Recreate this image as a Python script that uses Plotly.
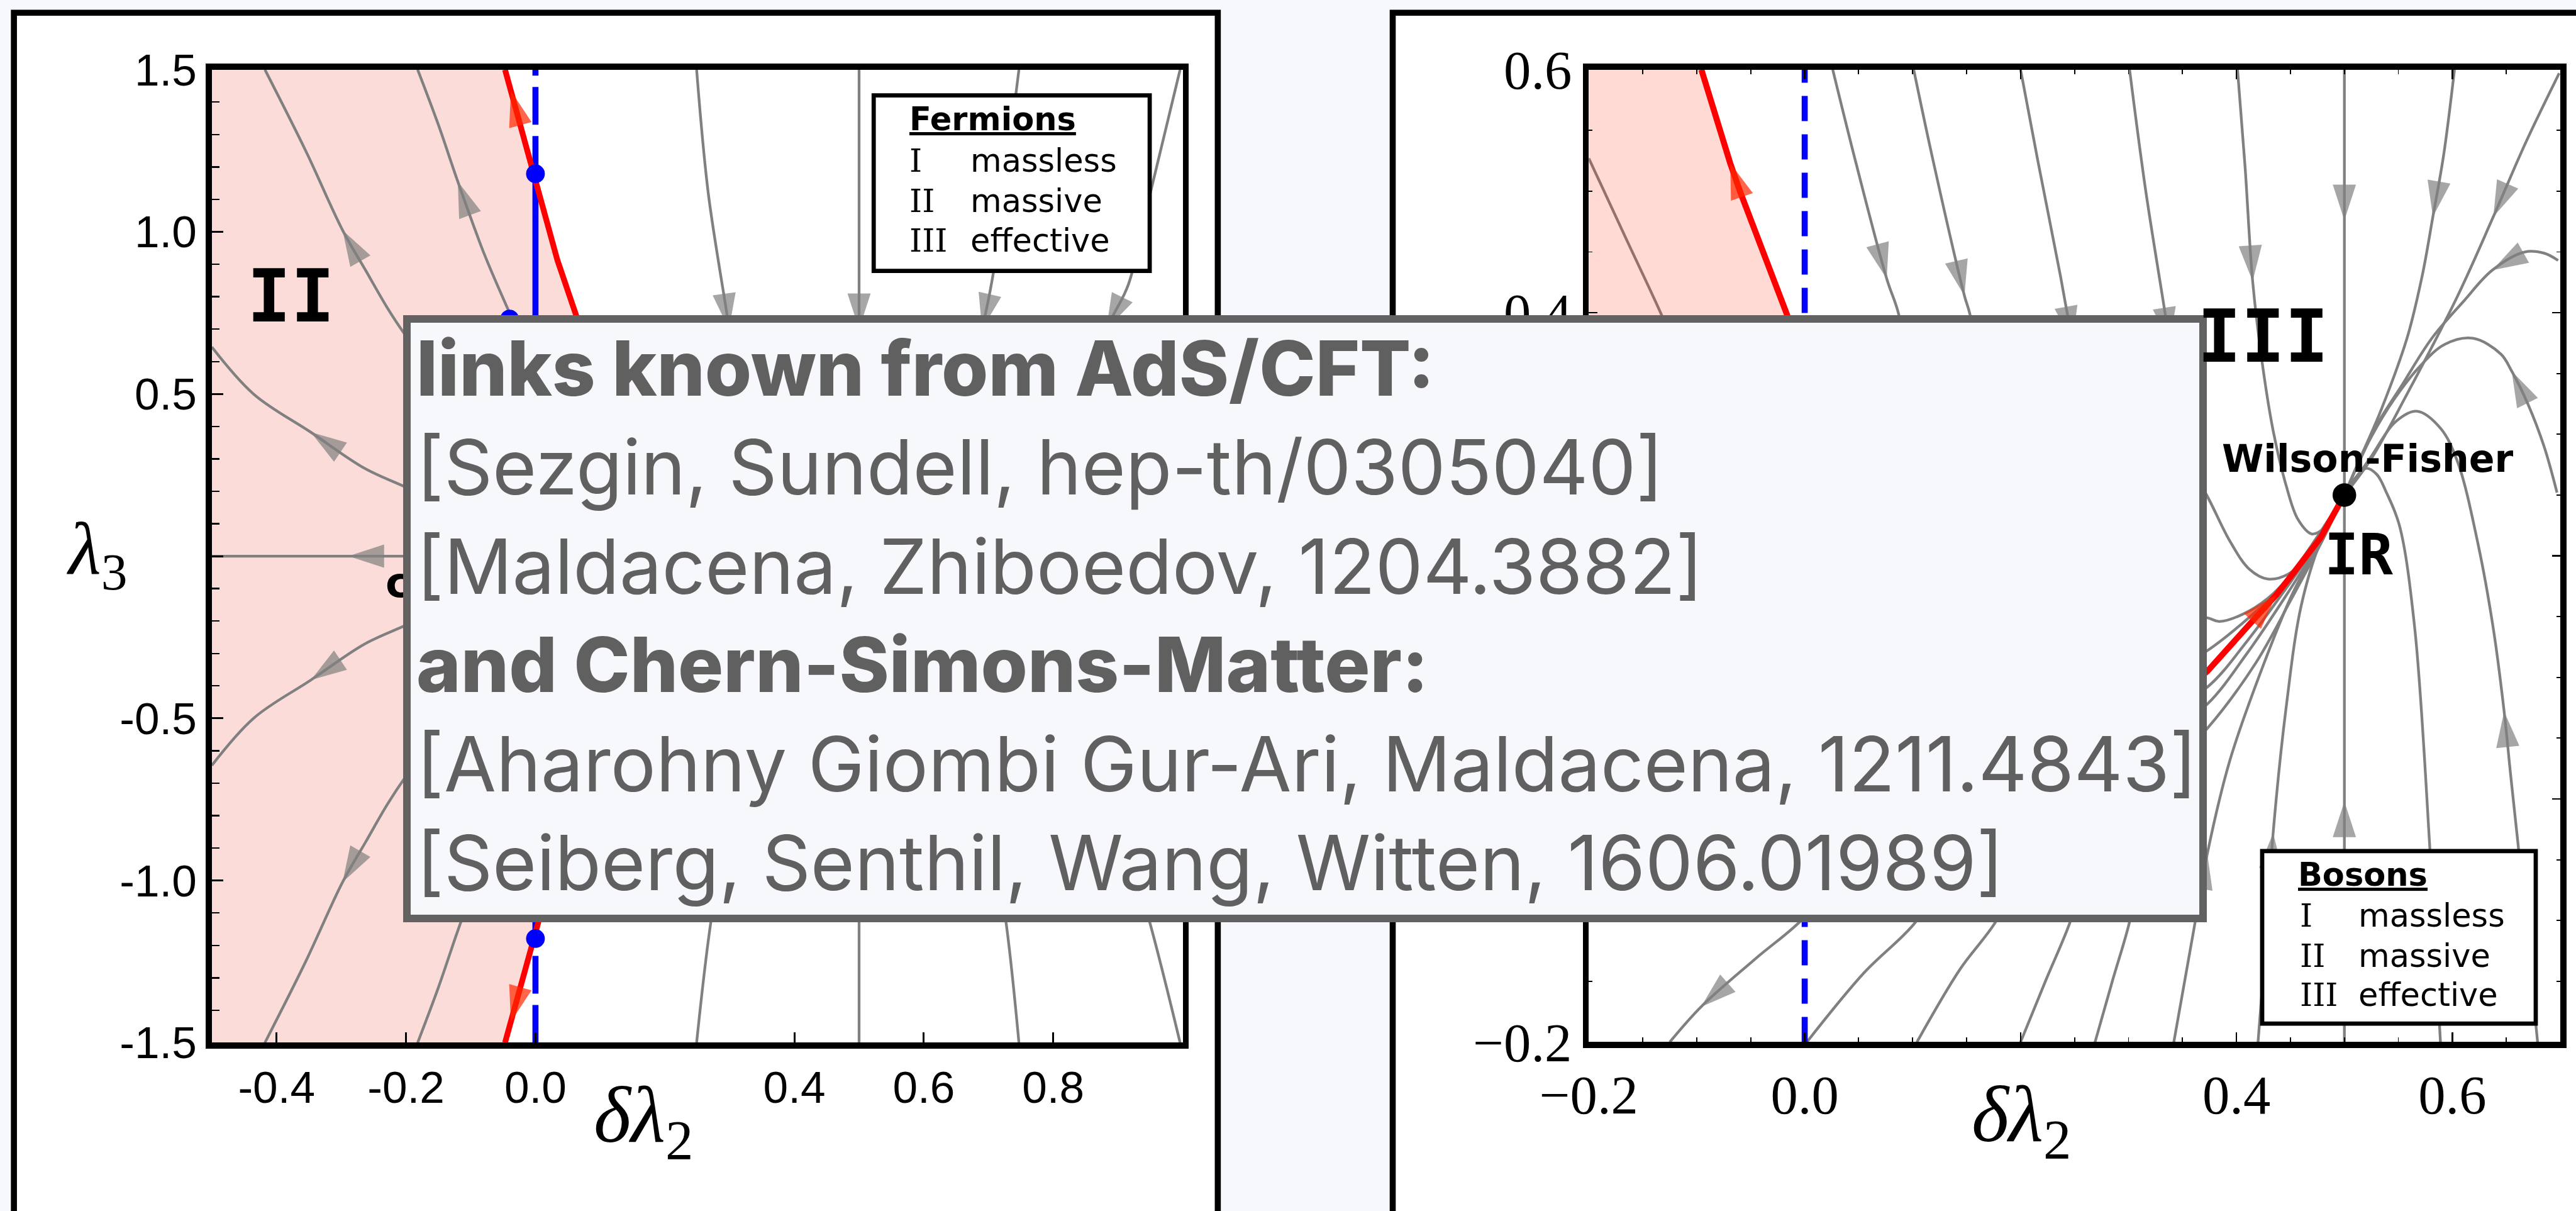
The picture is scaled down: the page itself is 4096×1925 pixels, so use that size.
import plotly.graph_objects as go

# ---------------------------------------------------------------------------
# Canvas: reference layout is 4256 x 2000, drawn at 0.962 scale
# ---------------------------------------------------------------------------
FIG_W, FIG_H = 4096, 1925
REF_W, REF_H = 4256.0, 2000.0
K = FIG_W / REF_W


def sz(v):
    """reference pixels -> figure pixels"""
    return v * K


def pxx(xf):
    return xf / REF_W


def pxy(yf):
    return 1.0 - yf / REF_H


BG = "#f7f8fc"
GRAY = "#808080"
RED = "#ff0000"
RED_HEAD = "#ff2600"
BLUE = "#0000ff"

# ---------------------------------------------------------------------------
# Fermions (left panel): x = delta lambda_2, y = lambda_3
# ---------------------------------------------------------------------------
fer_xticks = [-0.4, -0.2, 0.0, 0.4, 0.6, 0.8]
fer_xlabels = ["-0.4", "-0.2", "0.0", "0.4", "0.6", "0.8"]
fer_yticks = [-1.5, -1.0, -0.5, 0.0, 0.5, 1.0, 1.5]
fer_ylabels = ["-1.5", "-1.0", "-0.5", "", "0.5", "1.0", "1.5"]

# streamlines, points listed along the direction of the flow
fer_flow_a = [(-0.17, 0.60), (-0.204, 0.69), (-0.229, 0.766), (-0.262, 0.88),
              (-0.298, 1.005), (-0.355, 1.25), (-0.418, 1.5)]
fer_flow_b = [(-0.02, 0.66), (-0.040, 0.75), (-0.079, 0.931), (-0.120, 1.155),
              (-0.150, 1.33), (-0.182, 1.5)]
fer_flow_c = [(-0.13, 0.15), (-0.204, 0.216), (-0.265, 0.272), (-0.347, 0.382),
              (-0.435, 0.499), (-0.5, 0.645)]
fer_flow_d = [(-0.10, 0.0), (-0.20, 0.0), (-0.289, 0.0), (-0.5, 0.0)]
fer_flow_e = [(-0.13, -0.15), (-0.204, -0.216), (-0.265, -0.272), (-0.347, -0.382),
              (-0.435, -0.499), (-0.5, -0.645)]
fer_flow_f = [(-0.17, -0.60), (-0.204, -0.69), (-0.229, -0.766), (-0.262, -0.88),
              (-0.298, -1.005), (-0.355, -1.25), (-0.418, -1.5)]
fer_flow_g = [(-0.02, -0.66), (-0.040, -0.75), (-0.079, -0.931), (-0.120, -1.155),
              (-0.150, -1.33), (-0.182, -1.5)]
fer_flow_h = [(0.249, 1.5), (0.267, 1.119), (0.296, 0.744), (0.299, 0.70), (0.31, 0.55)]
fer_flow_i = [(0.5, 1.5), (0.5, 0.8), (0.5, 0.70), (0.5, 0.5)]
fer_flow_j = [(0.747, 1.5), (0.725, 1.15), (0.708, 0.88), (0.695, 0.744),
              (0.690, 0.70), (0.675, 0.55)]
fer_flow_k = [(0.996, 1.5), (0.952, 1.136), (0.916, 0.837), (0.893, 0.744),
              (0.882, 0.70), (0.86, 0.6)]
fer_flow_l = [(0.249, -1.5), (0.271, -1.128), (0.30, -0.8)]
fer_flow_m = [(0.5, -1.5), (0.5, -0.8)]
fer_flow_n = [(0.747, -1.5), (0.727, -1.128), (0.70, -0.8)]
fer_flow_o = [(0.996, -1.5), (0.949, -1.128), (0.90, -0.8)]

fer_flows = [fer_flow_a, fer_flow_b, fer_flow_c, fer_flow_d, fer_flow_e, fer_flow_f,
             fer_flow_g, fer_flow_h, fer_flow_i, fer_flow_j, fer_flow_k, fer_flow_l,
             fer_flow_m, fer_flow_n, fer_flow_o]

# arrowheads: (streamline, tip index, index of the point just before it)
fer_arrows = [(fer_flow_a, 4, 3), (fer_flow_b, 3, 2), (fer_flow_c, 3, 2),
              (fer_flow_d, 2, 1), (fer_flow_e, 3, 2), (fer_flow_f, 4, 3),
              (fer_flow_h, 3, 2), (fer_flow_i, 2, 1), (fer_flow_j, 4, 3),
              (fer_flow_k, 4, 3)]

# separatrix (red) and the massless line (blue)
fer_red = [(-0.047, 1.5), (-0.038, 1.435), (-0.0025, 1.179), (0.034, 0.912),
           (0.063, 0.742), (0.11, 0.40), (0.13, 0.0), (0.11, -0.40), (0.063, -0.742),
           (0.034, -0.912), (-0.0025, -1.179), (-0.038, -1.435), (-0.047, -1.5)]
fer_red_arrows = [(fer_red, 1, 2), (fer_red, 11, 10)]
fer_blue_solid = [(0.0, -1.179), (0.0, 1.179)]
fer_blue_dash_top = [(0.0, 1.179), (0.0, 1.5)]
fer_blue_dash_bottom = [(0.0, -1.5), (0.0, -1.179)]
fer_blue_dots = [(0.0, 1.179), (0.0, -1.179), (-0.04, 0.731)]

# ---------------------------------------------------------------------------
# Bosons (right panel)
# ---------------------------------------------------------------------------
bos_xticks = [-0.2, 0.0, 0.2, 0.4, 0.6]
bos_xlabels = ["\u22120.2", "0.0", "", "0.4", "0.6"]
bos_yticks = [-0.2, 0.0, 0.2, 0.4, 0.6]
bos_ylabels = ["\u22120.2", "0.0", "0.2", "0.4", "0.6"]

wilson_fisher = (0.5, 0.25)

bos_flow_1 = [(0.026, 0.6), (0.047, 0.525), (0.076, 0.428), (0.087, 0.399), (0.10, 0.33)]
bos_flow_2 = [(0.101, 0.6), (0.119, 0.525), (0.148, 0.414), (0.153, 0.399), (0.165, 0.33)]
bos_flow_3 = [(0.200, 0.6), (0.216, 0.525), (0.237, 0.43), (0.248, 0.376), (0.26, 0.32)]
bos_flow_4 = [(0.301, 0.6), (0.316, 0.5), (0.334, 0.399), (0.338, 0.375), (0.345, 0.33)]
bos_flow_5 = [(0.401, 0.6), (0.408, 0.52), (0.415, 0.426), (0.424, 0.358), (0.434, 0.303),
              (0.446, 0.258), (0.457, 0.230), (0.470, 0.218), (0.483, 0.224),
              (0.492, 0.236), (0.5, 0.25)]
bos_flow_6 = [(0.5, 0.6), (0.5, 0.55), (0.5, 0.476), (0.5, 0.25)]
bos_flow_7 = [(0.5, -0.2), (0.5, -0.08), (0.5, -0.002), (0.5, 0.25)]
bos_flow_8 = [(0.602, 0.6), (0.592, 0.53), (0.582, 0.479), (0.572, 0.430), (0.558, 0.379),
              (0.534, 0.320), (0.518, 0.287), (0.5, 0.25)]
bos_flow_9 = [(0.699, 0.597), (0.668, 0.54), (0.638, 0.479), (0.605, 0.414), (0.558, 0.333),
              (0.525, 0.280), (0.5, 0.25)]
bos_flow_10 = [(0.698, 0.443), (0.685, 0.449), (0.667, 0.450), (0.637, 0.435),
               (0.610, 0.409), (0.581, 0.379), (0.553, 0.340), (0.527, 0.303), (0.5, 0.25)]
bos_flow_11 = [(0.697, 0.252), (0.685, 0.290), (0.670, 0.325), (0.655, 0.352),
               (0.645, 0.366), (0.619, 0.379), (0.593, 0.374), (0.570, 0.356),
               (0.547, 0.330), (0.525, 0.298), (0.511, 0.272), (0.5, 0.25)]
bos_flow_12 = [(0.679, -0.2), (0.670, -0.12), (0.661, -0.038), (0.654, 0.02),
               (0.648, 0.072), (0.638, 0.14), (0.624, 0.209), (0.605, 0.277),
               (0.589, 0.305), (0.567, 0.319), (0.547, 0.310), (0.525, 0.282), (0.5, 0.25)]
bos_flow_13 = [(0.589, -0.2), (0.584, -0.12), (0.579, -0.038), (0.565, 0.142),
               (0.551, 0.225), (0.539, 0.252), (0.530, 0.267), (0.520, 0.272),
               (0.510, 0.264), (0.5, 0.25)]
bos_flow_14 = [(0.34, 0.30), (0.373, 0.249), (0.394, 0.212), (0.412, 0.189), (0.429, 0.181),
               (0.448, 0.185), (0.464, 0.198), (0.480, 0.220), (0.5, 0.25)]
bos_flow_15 = [(0.33, 0.15), (0.373, 0.149), (0.384, 0.146), (0.406, 0.152), (0.429, 0.165),
               (0.448, 0.182), (0.469, 0.208), (0.5, 0.25)]
bos_flow_16 = [(0.33, 0.10), (0.373, 0.122), (0.41, 0.148), (0.45, 0.182), (0.478, 0.215),
               (0.5, 0.25)]
bos_flow_17 = [(0.33, 0.07), (0.373, 0.092), (0.41, 0.13), (0.445, 0.172), (0.476, 0.212),
               (0.5, 0.25)]
bos_flow_18 = [(0.33, 0.05), (0.373, 0.078), (0.41, 0.12), (0.445, 0.166), (0.476, 0.210),
               (0.5, 0.25)]
bos_flow_19 = [(0.33, 0.02), (0.373, 0.058), (0.418, 0.112), (0.45, 0.163), (0.477, 0.208),
               (0.5, 0.25)]
bos_flow_20 = [(0.342, -0.2), (0.357, -0.125), (0.365, -0.085), (0.373, -0.045),
               (0.394, 0.032), (0.424, 0.108), (0.452, 0.169), (0.478, 0.212), (0.5, 0.25)]
bos_flow_21 = [(0.420, -0.2), (0.427, -0.12), (0.430, -0.08), (0.434, -0.028),
               (0.446, 0.075), (0.460, 0.159), (0.478, 0.212), (0.5, 0.25)]
bos_flow_22 = [(0.03, -0.06), (0.0, -0.097), (-0.045, -0.131), (-0.096, -0.171),
               (-0.125, -0.2)]
bos_flow_23 = [(0.002, -0.2), (0.055, -0.143), (0.103, -0.101), (0.13, -0.06)]
bos_flow_24 = [(0.104, -0.2), (0.144, -0.140), (0.177, -0.101), (0.20, -0.06)]
bos_flow_25 = [(0.200, -0.2), (0.223, -0.15), (0.246, -0.101), (0.26, -0.06)]
bos_flow_26 = [(0.269, -0.2), (0.285, -0.15), (0.301, -0.101), (0.31, -0.06)]
bos_flow_27 = [(-0.2, 0.527), (-0.165, 0.46), (-0.133, 0.399), (-0.11, 0.35)]

bos_flows = [bos_flow_1, bos_flow_2, bos_flow_3, bos_flow_4, bos_flow_5, bos_flow_6,
             bos_flow_7, bos_flow_8, bos_flow_9, bos_flow_10, bos_flow_11, bos_flow_12,
             bos_flow_13, bos_flow_14, bos_flow_15, bos_flow_16, bos_flow_17,
             bos_flow_18, bos_flow_19, bos_flow_20, bos_flow_21, bos_flow_22,
             bos_flow_23, bos_flow_24, bos_flow_25, bos_flow_26, bos_flow_27]

bos_arrows = [(bos_flow_1, 2, 1), (bos_flow_2, 2, 1), (bos_flow_3, 3, 2),
              (bos_flow_4, 3, 2), (bos_flow_5, 2, 1), (bos_flow_6, 2, 1),
              (bos_flow_7, 2, 1), (bos_flow_8, 2, 1), (bos_flow_9, 2, 1),
              (bos_flow_10, 3, 2), (bos_flow_11, 3, 2), (bos_flow_12, 4, 3),
              (bos_flow_20, 3, 2), (bos_flow_21, 3, 2), (bos_flow_22, 3, 2)]

bos_red_upper = [(0.02, 0.30), (-0.0166, 0.399), (-0.060, 0.500), (-0.069, 0.523),
                 (-0.0957, 0.6)]
bos_red_wf = [(0.30, 0.05), (0.373, 0.105), (0.4175, 0.149), (0.437, 0.168),
              (0.452, 0.185), (0.478, 0.215), (0.5, 0.25)]
bos_red_arrows = [(bos_red_upper, 3, 2), (bos_red_wf, 3, 2)]
bos_shade = [(-0.2, 0.6), (-0.0957, 0.6), (-0.060, 0.500), (-0.0166, 0.399),
             (0.02, 0.30), (-0.2, 0.30)]
bos_blue_dash = [(0.0, -0.2), (0.0, 0.6)]

# ---------------------------------------------------------------------------
fig = go.Figure()


def xs(pts):
    return [p[0] for p in pts]


def ys(pts):
    return [p[1] for p in pts]


def add_line(pts, ax, color, width, shape="spline", dash=None):
    fig.add_trace(go.Scatter(
        x=xs(pts), y=ys(pts), mode="lines", xaxis=ax[0], yaxis=ax[1],
        line=dict(color=color, width=width, shape=shape, dash=dash),
        hoverinfo="skip", showlegend=False))


def add_arrows(specs, ax, color, size):
    ax_x, ax_y, sizes = [], [], []
    for pts, tip, prev in specs:
        ax_x += [pts[prev][0], pts[tip][0]]
        ax_y += [pts[prev][1], pts[tip][1]]
        sizes += [0, size]
    fig.add_trace(go.Scatter(
        x=ax_x, y=ax_y, mode="markers", xaxis=ax[0], yaxis=ax[1],
        marker=dict(symbol="arrow", angleref="previous", size=sizes, color=color,
                    line=dict(width=0)),
        hoverinfo="skip", showlegend=False))


LEFT = ("x", "y")
RIGHT = ("x2", "y2")
ARROW = sz(62)
LW_GRAY = sz(4.5)

# --- left panel -----------------------------------------------------------
shade_left = [(-0.5, 1.5)] + fer_red + [(-0.5, -1.5)]
fig.add_trace(go.Scatter(x=xs(shade_left), y=ys(shade_left), mode="lines", fill="toself",
                         fillcolor="#fbdcd8", line=dict(width=0), xaxis="x", yaxis="y",
                         hoverinfo="skip", showlegend=False))
for f in fer_flows:
    add_line(f, LEFT, GRAY, LW_GRAY)
add_arrows(fer_arrows, LEFT, GRAY, ARROW)
add_line(fer_blue_solid, LEFT, BLUE, sz(10), shape="linear")
add_line(fer_blue_dash_top, LEFT, BLUE, sz(10), shape="linear",
         dash=f"{sz(62):.0f}px,{sz(19):.0f}px")
add_line(fer_blue_dash_bottom, LEFT, BLUE, sz(10), shape="linear",
         dash=f"{sz(62):.0f}px,{sz(19):.0f}px")
add_line(fer_red, LEFT, RED, sz(9.5), shape="linear")
add_arrows(fer_red_arrows, LEFT, RED_HEAD, ARROW)
fig.add_trace(go.Scatter(x=xs(fer_blue_dots), y=ys(fer_blue_dots), mode="markers",
                         marker=dict(color=BLUE, size=sz(31), line=dict(width=0)),
                         xaxis="x", yaxis="y", hoverinfo="skip", showlegend=False))

# --- right panel ----------------------------------------------------------
for f in bos_flows:
    add_line(f, RIGHT, GRAY, LW_GRAY)
add_arrows(bos_arrows, RIGHT, GRAY, ARROW)
fig.add_trace(go.Scatter(x=xs(bos_shade), y=ys(bos_shade), mode="lines", fill="toself",
                         fillcolor="rgba(253,39,5,0.176)", line=dict(width=0),
                         xaxis="x2", yaxis="y2", hoverinfo="skip", showlegend=False))
add_line(bos_blue_dash, RIGHT, BLUE, sz(10), shape="linear",
         dash=f"{sz(42):.0f}px,{sz(22):.0f}px")
add_line(bos_red_upper, RIGHT, RED, sz(10), shape="linear")
add_line(bos_red_wf, RIGHT, RED, sz(10), shape="linear")
add_arrows(bos_red_arrows, RIGHT, RED_HEAD, ARROW)
fig.add_trace(go.Scatter(x=[wilson_fisher[0]], y=[wilson_fisher[1]], mode="markers",
                         marker=dict(color="black", size=sz(39), line=dict(width=0)),
                         xaxis="x2", yaxis="y2", hoverinfo="skip", showlegend=False))

# --- axes -----------------------------------------------------------------
frame = dict(showgrid=False, zeroline=False, showline=True, linecolor="black",
             linewidth=sz(10), ticks="inside", tickcolor="black", fixedrange=True,
             automargin=False)
sans_ticks = dict(family="Liberation Sans, Arial, sans-serif", size=sz(74), color="black")
serif_ticks = dict(family="Liberation Serif, Times New Roman, serif", size=sz(90),
                   color="black")

fig.update_layout(
    xaxis=dict(domain=[pxx(350), pxx(1954)], range=[-0.5, 1.0], anchor="y", mirror=True,
               tickmode="array", tickvals=fer_xticks, ticktext=fer_xlabels,
               ticklen=sz(17), tickwidth=sz(3), tickfont=sans_ticks, **frame),
    yaxis=dict(domain=[pxy(1722), pxy(115)], range=[-1.5, 1.5], anchor="x", mirror=True,
               tickmode="array", tickvals=fer_yticks, ticktext=fer_ylabels,
               ticklen=sz(19), tickwidth=sz(3), tickfont=sans_ticks,
               minor=dict(dtick=0.1, tick0=0, ticks="inside", ticklen=sz(13),
                          tickwidth=sz(2.5), tickcolor="black"),
               **frame),
    xaxis2=dict(domain=[pxx(2625), pxx(4230)], range=[-0.2, 0.7], anchor="y2",
                mirror="allticks", tickmode="array", tickvals=bos_xticks,
                ticktext=bos_xlabels, ticklen=sz(16), tickwidth=sz(2.5),
                tickfont=serif_ticks,
                minor=dict(dtick=0.05, tick0=0, ticks="inside", ticklen=sz(8),
                           tickwidth=sz(2), tickcolor="black"),
                **frame),
    yaxis2=dict(domain=[pxy(1721), pxy(115)], range=[-0.2, 0.6], anchor="x2",
                mirror="allticks", tickmode="array", tickvals=bos_yticks,
                ticktext=bos_ylabels, ticklen=sz(14), tickwidth=sz(2.5),
                tickfont=serif_ticks,
                minor=dict(dtick=0.05, tick0=0, ticks="inside", ticklen=sz(6),
                           tickwidth=sz(2), tickcolor="black"),
                **frame),
)

# --- panels and legend boxes ---------------------------------------------
shapes = [
    dict(type="rect", xref="paper", yref="paper", layer="below",
         x0=pxx(23), x1=pxx(2012), y0=pxy(2150), y1=pxy(21),
         fillcolor="white", line=dict(color="black", width=sz(10))),
    dict(type="rect", xref="paper", yref="paper", layer="below",
         x0=pxx(2301), x1=pxx(4400), y0=pxy(2150), y1=pxy(21),
         fillcolor="white", line=dict(color="black", width=sz(10))),
    dict(type="rect", xref="paper", yref="paper", layer="above",
         x0=pxx(1443.5), x1=pxx(1899.5), y0=pxy(447.5), y1=pxy(157.5),
         fillcolor="white", line=dict(color="black", width=sz(7))),
    dict(type="rect", xref="paper", yref="paper", layer="above",
         x0=pxx(3737.5), x1=pxx(4189.5), y0=pxy(1690.5), y1=pxy(1405.5),
         fillcolor="white", line=dict(color="black", width=sz(7))),
]

annotations = []


def label(text, xf, yf, size, family, color="black", xanchor="left", weight=None):
    font = dict(size=sz(size), family=family, color=color)
    if weight is not None:
        font["weight"] = weight
    annotations.append(dict(
        text=text, x=pxx(xf), y=pxy(yf), xref="paper", yref="paper",
        xanchor=xanchor, yanchor="middle", showarrow=False, borderpad=0, borderwidth=0,
        font=font))


MONO_B = "DejaVu Sans Mono"
SANS = "DejaVu Sans"
SERIF = "DejaVu Serif"
MATH = "Liberation Serif, Times New Roman, serif"

# region and fixed-point labels
label("<b>II</b>", 408, 489, 120, MONO_B)
label("<b>c</b>", 637, 962, 68, SANS)
label("<b>Wilson-Fisher</b>", 3912, 757, 62.5, SANS, xanchor="center")
label("<b>IR</b>", 3840, 916, 94, MONO_B)

# axis titles
label("<i>\u03b4\u03bb</i><sub>2</sub>", 1063, 1851, 132, MATH, xanchor="center")
label("<i>\u03b4\u03bb</i><sub>2</sub>", 3340, 1850, 132, MATH, xanchor="center")
label("<i>\u03bb</i><sub>3</sub>", 160, 915, 124, MATH, xanchor="center")

# legends
phases = [("I", "massless"), ("II", "massive"), ("III", "effective")]
label("<b><u>Fermions</u></b>", 1503, 197, 53, SANS)
for (num, word), yb in zip(phases, [283, 350, 415]):
    label(num, 1502, yb - 18, 53, SERIF)
    label(word, 1603, yb - 18, 53, SANS)
label("<b><u>Bosons</u></b>", 3797, 1445, 53, SANS)
for (num, word), yb in zip(phases, [1530, 1597, 1661]):
    label(num, 3800, yb - 18, 53, SERIF)
    label(word, 3897, yb - 18, 53, SANS)

# reference box
BOX_BW = 12.5
annotations.append(dict(
    text=" ", x=pxx(2156), y=pxy(1021.5), xref="paper", yref="paper",
    xanchor="center", yanchor="middle", showarrow=False,
    width=sz(2980) - 2 * sz(BOX_BW), height=sz(1003) - 2 * sz(BOX_BW),
    bgcolor=BG, bordercolor="#626262", borderwidth=sz(BOX_BW), borderpad=0))

ref_lines = [
    ("links known from AdS/CFT:", 800),
    ("[Sezgin, Sundell, hep-th/0305040]", None),
    ("[Maldacena, Zhiboedov, 1204.3882]", None),
    ("and Chern-Simons-Matter:", 800),
    ("[Aharohny Giombi Gur-Ari, Maldacena, 1211.4843]", None),
    ("[Seiberg, Senthil, Wang, Witten, 1606.01989]", None),
]
ref_baselines = [650, 813, 977, 1140, 1304, 1467]
for (txt, w), yb in zip(ref_lines, ref_baselines):
    label(txt, 688, yb - 42.4, 125, "Inter, Roboto, sans-serif", color="#606060",
          weight=w)

label("<b>III</b>", 3631, 556, 120, MONO_B)

fig.update_layout(
    width=FIG_W, height=FIG_H, margin=dict(l=0, r=0, t=0, b=0, pad=0, autoexpand=False),
    paper_bgcolor=BG, plot_bgcolor="white", showlegend=False,
    shapes=shapes, annotations=annotations,
)

fig.write_html("out.html", include_plotlyjs=True, full_html=True,
               config={"displayModeBar": False, "staticPlot": True})
